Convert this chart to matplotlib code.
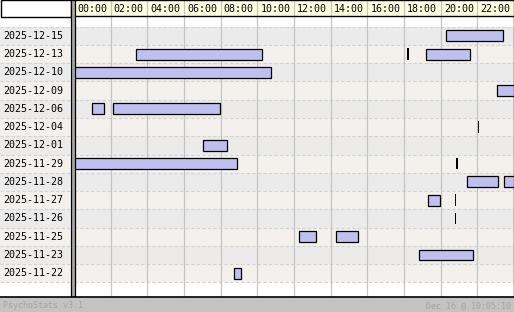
import matplotlib
matplotlib.use("Agg")
import matplotlib.pyplot as plt
from matplotlib.patches import Rectangle
from matplotlib.lines import Line2D

# dates shown on the left, top to bottom
days = ['2025-12-15', '2025-12-13', '2025-12-10', '2025-12-09', '2025-12-06',
        '2025-12-04', '2025-12-01', '2025-11-29', '2025-11-28', '2025-11-27',
        '2025-11-26', '2025-11-25', '2025-11-23', '2025-11-22']

# sessions: day, start hour, end hour
sess_day = ['2025-12-15', '2025-12-13', '2025-12-13', '2025-12-13', '2025-12-10',
            '2025-12-09', '2025-12-06', '2025-12-06', '2025-12-04', '2025-12-01',
            '2025-11-29', '2025-11-29', '2025-11-28', '2025-11-28', '2025-11-27',
            '2025-11-27', '2025-11-26', '2025-11-25', '2025-11-25', '2025-11-23',
            '2025-11-22']
sess_start = [20.31, 3.40, 18.18, 19.22, 0.00,
              23.09, 1.00, 2.15, 22.03, 7.05,
              0.00, 20.83, 21.45, 23.47, 19.33,
              20.77, 20.77, 12.29, 14.31, 18.84,
              8.75]
sess_end = [23.42, 10.27, 18.29, 21.58, 10.76,
            24.00, 1.62, 7.95, 22.08, 8.33,
            8.87, 20.94, 23.15, 24.00, 19.95,
            20.82, 20.82, 13.18, 15.47, 21.75,
            9.09]

hour_labels = ['00:00', '02:00', '04:00', '06:00', '08:00', '10:00',
               '12:00', '14:00', '16:00', '18:00', '20:00', '22:00']

W, H = 514, 312


def px(x, y, w, h):
    return [x / W, 1 - (y + h) / H, w / W, h / H]


fig = plt.figure(figsize=(W / 100, H / 100), dpi=100)
fig.patch.set_facecolor('white')

ylim = (14.3, -1.03)
ax = fig.add_axes(px(74, 17, 440, 280))
lab = fig.add_axes(px(0, 17, 70, 280))
hd = fig.add_axes(px(74, 0, 440, 16))

for a in (ax, lab):
    a.set_ylim(*ylim)
    a.set_facecolor('white')
    for i in range(len(days)):
        a.axhspan(i - 0.5, i + 0.5, color='#ebebeb' if i % 2 == 0 else '#f4f1ec', lw=0, zorder=0)
    for i in range(len(days) + 1):
        a.axhline(i - 0.5, color='#d2d2d2', lw=0.8, ls=(0, (3, 2)), zorder=1)
    a.set_xticks([])
    a.set_yticks([])

ax.set_xlim(0, 24)
lab.set_xlim(0, 70)
for h in range(2, 24, 2):
    ax.axvline(h, color='#c4c4c4', lw=0.9, zorder=1)
for s in ['top', 'bottom']:
    ax.spines[s].set_visible(False)
for s in ['left', 'right']:
    ax.spines[s].set_color('black')
    ax.spines[s].set_linewidth(1.0)
for s in lab.spines.values():
    s.set_visible(False)

for i, d in enumerate(days):
    lab.text(3, i, d, ha='left', va='center', family='DejaVu Sans Mono', fontsize=7.2, color='black')

# sessions
for d, s, e in zip(sess_day, sess_start, sess_end):
    r = days.index(d)
    if e - s < 0.15:
        ax.barh(r, e - s, left=s, height=0.63, color='black', lw=0, zorder=3)
    else:
        ax.barh(r, e - s, left=s, height=0.6, color='#bfbff0', edgecolor='black', lw=0.9, zorder=3)

# header
hd.set_xlim(0, 24)
hd.set_ylim(0, 1)
hd.set_facecolor('#ffffdf')
hd.set_xticks([])
hd.set_yticks([])
for s in hd.spines.values():
    s.set_color('black')
    s.set_linewidth(1.0)
for h in range(2, 24, 2):
    hd.axvline(h, color='#c4c4c4', lw=0.9)
for k, t in enumerate(hour_labels):
    hd.text(k * 2 + 0.17, 0.45, t, ha='left', va='center', family='DejaVu Sans Mono', fontsize=7.2)

# left header cell, separator, bottom line, footer
fig.patches.append(Rectangle((0.5 / W, 1 - 16.5 / H), 70 / W, 16 / H, transform=fig.transFigure,
                             facecolor='white', edgecolor='black', lw=1.0))
fig.patches.append(Rectangle((70.5 / W, 1 - 297 / H), 4 / W, 297 / H, transform=fig.transFigure,
                             facecolor='#a8a8a8', edgecolor='black', lw=0.9))
fig.patches.append(Rectangle((0, 0), 1, 15 / H, transform=fig.transFigure,
                             facecolor='#c3c3c3', edgecolor='none'))
fig.lines.append(Line2D([0, 1], [1 - 297 / H, 1 - 297 / H], transform=fig.transFigure,
                        color='black', lw=1.2))
fig.text(3 / W, 1 - 305.5 / H, 'PsychoStats v3.1', ha='left', va='center',
         family='DejaVu Sans Mono', fontsize=6, color='#a4a4a4')
fig.text(511 / W, 1 - 305.5 / H, 'Dec 16 @ 10:05:10', ha='right', va='center',
         family='DejaVu Sans Mono', fontsize=6, color='#a4a4a4')

fig.savefig('out.png', dpi=100)
